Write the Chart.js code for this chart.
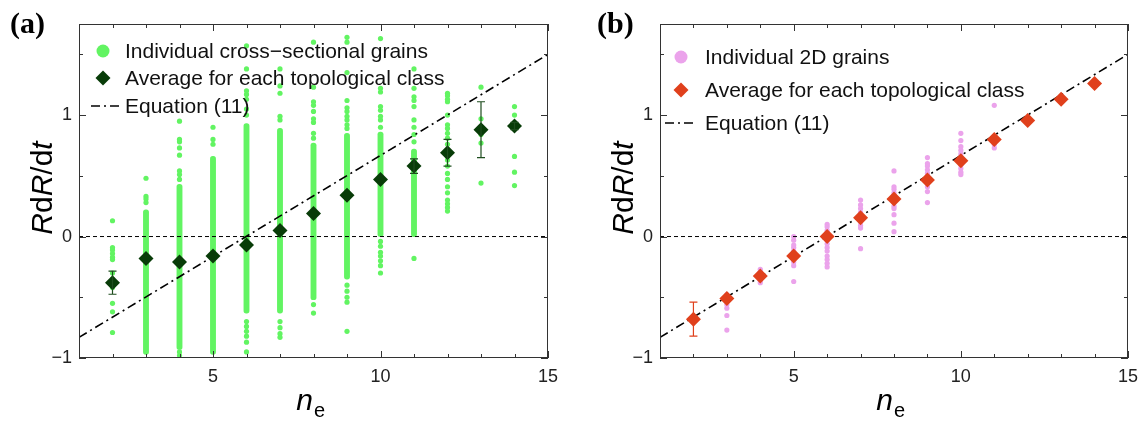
<!DOCTYPE html>
<html>
<head>
<meta charset="utf-8">
<script src="https://cdn.jsdelivr.net/npm/chart.js@4.4.1/dist/chart.umd.min.js"></script>
<style>
  html, body { margin: 0; padding: 0; background: #fff; }
  #wrap { position: relative; width: 1146px; height: 421px; overflow: hidden; }
  .panel { position: absolute; top: 0; width: 573px; height: 421px; }
</style>
</head>
<body>
<div id="wrap">
  <div class="panel" style="left:0"><canvas id="chartA"></canvas></div>
  <div class="panel" style="left:573px"><canvas id="chartB"></canvas></div>
</div>
<script>
// --- DATA ---
const classes = [2, 3, 4, 5, 6, 7, 8, 9, 10, 11, 12, 13, 14];

// (a) cross-sectional grains
const avgA = [-0.38, -0.18, -0.21, -0.16, -0.07, 0.05, 0.19, 0.34, 0.47, 0.58, 0.69, 0.88, 0.91];
const errA = [0.095, 0, 0, 0, 0, 0, 0, 0, 0, 0.06, 0.11, 0.23, 0.03];
// dense columns of grains, [low, high] per class (null = none)
const denseA = [null, [-0.97, 0.22], [-0.93, 0.43], [-0.97, 0.66], [-0.63, 0.93], [-0.63, 0.89],
                [-0.52, 0.77], [-0.35, 0.85], [0.0, 0.86], [0.0, 0.72], null, null, null];
// single grains outside the dense columns
const grainsA = [
  [0.13, -0.09, -0.11, -0.14, -0.17, -0.19, -0.30, -0.35, -0.42, -0.55, -0.62, -0.79],
  [0.48, 0.33, 0.31, 0.28],
  [0.95, 0.80, 0.78, 0.73, 0.67, 0.54, 0.51, 0.47, -0.95, -0.98],
  [0.90, 0.80, 0.76],
  [1.57, 1.38, 1.20, 1.17, 1.13, 1.05, 1.00, -0.70, -0.74, -0.78, -0.82, -0.87, -0.95],
  [1.38, 1.24, 1.18, 0.99, 0.96, -0.70, -0.75, -0.80, -0.83],
  [1.60, 1.23, 1.11, 1.08, 1.03, 0.97, 0.94, 0.85, 0.81, -0.56, -0.63],
  [1.64, 1.60, 1.35, 1.12, 1.06, 1.03, 0.99, 0.96, 0.92, 0.89, -0.40, -0.45, -0.50, -0.54, -0.78],
  [1.63, 1.22, 1.19, 1.07, 1.04, 0.99, 0.96, 0.90, -0.04, -0.08, -0.13, -0.16, -0.20, -0.24, -0.30],
  [1.38, 1.22, 1.15, 1.12, 1.07, 0.96, 0.90, 0.84, 0.78, -0.18],
  [1.18, 1.16, 1.13, 1.11, 1.00, 0.92, 0.89, 0.85, 0.81, 0.76, 0.70, 0.63, 0.58, 0.52, 0.47, 0.41, 0.36, 0.30, 0.27, 0.24, 0.21],
  [1.23, 0.97, 0.90, 0.84, 0.77, 0.44],
  [1.07, 1.00, 0.93, 0.90, 0.66, 0.53, 0.42]
];

// (b) 2D grains
const avgB = [-0.68, -0.51, -0.325, -0.16, 0.0, 0.155, 0.31, 0.465, 0.625, 0.80, 0.955, 1.13, 1.26];
const errB = [0.14, 0, 0, 0, 0, 0, 0, 0, 0, 0, 0, 0, 0];
const grainsB = [
  [-0.66, -0.70],
  [-0.48, -0.53, -0.56, -0.59, -0.65, -0.77],
  [-0.27, -0.29, -0.31, -0.34, -0.36, -0.38],
  [0.0, -0.03, -0.07, -0.09, -0.12, -0.14, -0.19, -0.21, -0.24, -0.37],
  [0.10, 0.08, 0.05, 0.03, -0.03, -0.06, -0.09, -0.12, -0.16, -0.19, -0.22, -0.25],
  [0.30, 0.26, 0.23, 0.20, 0.18, 0.12, 0.09, 0.07, -0.10],
  [0.54, 0.41, 0.39, 0.36, 0.34, 0.28, 0.25, 0.23, 0.18, 0.11, 0.04],
  [0.65, 0.60, 0.58, 0.55, 0.52, 0.50, 0.44, 0.41, 0.37, 0.28],
  [0.85, 0.79, 0.74, 0.71, 0.68, 0.59, 0.56, 0.53, 0.51],
  [1.08, 0.76, 0.73],
  [], [], []
];

// Equation (11) and the zero reference
const eqX = [1, 15];
const eqY = [-0.83, 1.5];
const zeroX = [1, 15];
const zeroY = [0, 0];

const xTicks = [5, 10, 15];
const yTicks = [-1, 0, 1];

const legendA = ['Individual cross\u2212sectional grains', 'Average for each topological class', 'Equation (11)'];
const legendB = ['Individual 2D grains', 'Average for each topological class', 'Equation (11)'];

// --- HELPERS ---
const SANS = '"Liberation Sans", Arial, sans-serif';

function pairs(xs, ys) { return xs.map((x, i) => ({ x: x, y: ys[i] })); }

function grainPoints(lists) {
  const out = [];
  lists.forEach((vals, i) => vals.forEach(v => out.push({ x: classes[i], y: v })));
  return out;
}

function denseBars(cols) {
  return cols.map((c, i) => c ? { x: classes[i], y: c } : null).filter(Boolean);
}

function fmtTick(v) { return v < 0 ? '\u2212' + Math.abs(v) : String(v); }

function diamond(ctx, x, y, r) {
  ctx.beginPath();
  ctx.moveTo(x, y - r); ctx.lineTo(x + r, y); ctx.lineTo(x, y + r); ctx.lineTo(x - r, y);
  ctx.closePath(); ctx.fill();
}

// error bars on the class averages
const errorBars = {
  id: 'errorBars',
  afterDatasetsDraw(chart, args, o) {
    const { ctx, scales: { x, y } } = chart;
    ctx.save();
    ctx.strokeStyle = o.color;
    ctx.lineWidth = 1.2;
    o.avg.forEach((m, i) => {
      const e = o.err[i];
      if (!e) return;
      const px = x.getPixelForValue(classes[i]);
      const t = y.getPixelForValue(m + e), b = y.getPixelForValue(m - e);
      ctx.beginPath();
      ctx.moveTo(px, t); ctx.lineTo(px, b);
      ctx.moveTo(px - 4, t); ctx.lineTo(px + 4, t);
      ctx.moveTo(px - 4, b); ctx.lineTo(px + 4, b);
      ctx.stroke();
    });
    ctx.restore();
  }
};

// frame, inward ticks, titles, panel letter, legend
const frame = {
  id: 'frame',
  afterDraw(chart, args, o) {
    const { ctx, chartArea: a, scales: { x, y } } = chart;
    ctx.save();
    ctx.strokeStyle = '#333';
    ctx.lineWidth = 1;
    ctx.strokeRect(a.left + 0.5, a.top + 0.5, a.right - a.left - 1, a.bottom - a.top - 1);

    ctx.beginPath();
    for (let v = 1; v <= 15; v++) {
      const px = Math.round(x.getPixelForValue(v)) + 0.5;
      const len = v % 5 === 0 ? 7 : 4;
      ctx.moveTo(px, a.bottom); ctx.lineTo(px, a.bottom - len);
      ctx.moveTo(px, a.top); ctx.lineTo(px, a.top + len);
    }
    for (let v = -1; v <= 1.5; v += 0.5) {
      const py = Math.round(y.getPixelForValue(v)) + 0.5;
      const len = Number.isInteger(v) ? 7 : 4;
      ctx.moveTo(a.left, py); ctx.lineTo(a.left + len, py);
      ctx.moveTo(a.right, py); ctx.lineTo(a.right - len, py);
    }
    ctx.stroke();

    // panel letter
    ctx.fillStyle = '#000';
    ctx.font = 'bold 30px "Liberation Serif", "Times New Roman", serif';
    ctx.textBaseline = 'alphabetic';
    ctx.textAlign = 'left';
    ctx.fillText(o.letter, o.letterX, 33);

    // y title: RdR/dt
    const parts = [['R', 'italic '], ['d', ''], ['R', 'italic '], ['/d', ''], ['t', 'italic ']];
    ctx.save();
    ctx.translate(o.yTitleX, o.yTitleY);
    ctx.rotate(-Math.PI / 2);
    let total = 0;
    parts.forEach(p => { ctx.font = p[1] + '30px ' + SANS; total += ctx.measureText(p[0]).width; });
    let cx = -total / 2;
    parts.forEach(p => {
      ctx.font = p[1] + '30px ' + SANS;
      ctx.fillText(p[0], cx, 0);
      cx += ctx.measureText(p[0]).width;
    });
    ctx.restore();

    // x title: n_e
    ctx.font = 'italic 30px ' + SANS;
    const nW = ctx.measureText('n').width;
    ctx.fillText('n', o.xTitleX - nW, 410);
    ctx.font = '20px ' + SANS;
    ctx.fillText('e', o.xTitleX + 1, 417);

    // legend
    const L = o.legend;
    ctx.font = '21px ' + SANS;
    ctx.textBaseline = 'middle';
    ctx.fillStyle = o.dotColor;
    ctx.beginPath(); ctx.arc(L.markX, L.rows[0], 6.5, 0, Math.PI * 2); ctx.fill();
    ctx.fillStyle = o.avgColor;
    diamond(ctx, L.markX, L.rows[1], 7.5);
    ctx.strokeStyle = '#000';
    ctx.lineWidth = 1.6;
    ctx.setLineDash([9, 4, 2, 4]);
    ctx.beginPath(); ctx.moveTo(L.lineX0, L.rows[2]); ctx.lineTo(L.lineX1, L.rows[2]); ctx.stroke();
    ctx.setLineDash([]);
    ctx.fillStyle = '#111';
    o.labels.forEach((t, i) => ctx.fillText(t, L.textX, L.rows[i] + 1));
    ctx.restore();
  }
};

function makePanel(id, cfg) {
  return new Chart(document.getElementById(id), {
    type: 'scatter',
    data: {
      datasets: [
        { type: 'scatter', data: pairs(classes, cfg.avg), pointStyle: 'rectRot', pointRadius: 7.5,
          backgroundColor: cfg.avgColor, borderWidth: 0, order: 0 },
        { type: 'line', data: pairs(eqX, eqY), borderColor: '#000', borderWidth: 1.6,
          borderDash: [9, 4, 2, 4], pointRadius: 0, fill: false, order: 1 },
        { type: 'line', data: pairs(zeroX, zeroY), borderColor: '#000', borderWidth: 1,
          borderDash: [4, 3], pointRadius: 0, fill: false, order: 1 },
        { type: 'scatter', data: grainPoints(cfg.grains), pointRadius: 2.6,
          backgroundColor: cfg.dotColor, borderWidth: 0, order: 2 },
        { type: 'bar', data: denseBars(cfg.dense), backgroundColor: cfg.dotColor,
          barThickness: 5.2, borderRadius: 3, borderSkipped: false, order: 3 }
      ]
    },
    options: {
      responsive: true,
      maintainAspectRatio: false,
      animation: false,
      events: [],
      layout: { padding: { top: 24, right: cfg.padRight, left: 0, bottom: 0 } },
      scales: {
        x: {
          type: 'linear', min: 1, max: 15, offset: false,
          grid: { display: false, drawTicks: false, offset: false },
          border: { display: false },
          afterBuildTicks: s => { s.ticks = xTicks.map(v => ({ value: v })); },
          afterFit: s => { s.height = 63; },
          ticks: { padding: 8, maxRotation: 0, color: '#222', font: { family: SANS, size: 18 },
                   callback: v => fmtTick(v) }
        },
        y: {
          type: 'linear', min: -1, max: 1.75,
          grid: { display: false, drawTicks: false },
          border: { display: false },
          afterBuildTicks: s => { s.ticks = yTicks.map(v => ({ value: v })); },
          afterFit: s => { s.width = cfg.axisLeft; },
          ticks: { padding: 7, color: '#222', font: { family: SANS, size: 18 },
                   callback: v => fmtTick(v) }
        }
      },
      plugins: {
        legend: { display: false },
        tooltip: { enabled: false },
        errorBars: { avg: cfg.avg, err: cfg.err, color: cfg.errColor },
        frame: cfg.frame
      }
    },
    plugins: [errorBars, frame]
  });
}

makePanel('chartA', {
  avg: avgA, err: errA, grains: grainsA, dense: denseA,
  dotColor: '#62f462', avgColor: '#083c08', errColor: '#1e4d1e',
  padRight: 25, axisLeft: 79,
  frame: {
    letter: '(a)', letterX: 10, yTitleX: 52, yTitleY: 188, xTitleX: 313,
    dotColor: '#62f462', avgColor: '#083c08', labels: legendA,
    legend: { markX: 103, textX: 125, rows: [51, 78, 106], lineX0: 91, lineX1: 121 }
  }
});

makePanel('chartB', {
  avg: avgB, err: errB, grains: grainsB, dense: [],
  dotColor: '#eba3eb', avgColor: '#e0401c', errColor: '#e0401c',
  padRight: 16, axisLeft: 87,
  frame: {
    letter: '(b)', letterX: 24, yTitleX: 60, yTitleY: 188, xTitleX: 320,
    dotColor: '#eba3eb', avgColor: '#e0401c', labels: legendB,
    legend: { markX: 108, textX: 132, rows: [57, 90, 123], lineX0: 92, lineX1: 122 }
  }
});
</script>
</body>
</html>
